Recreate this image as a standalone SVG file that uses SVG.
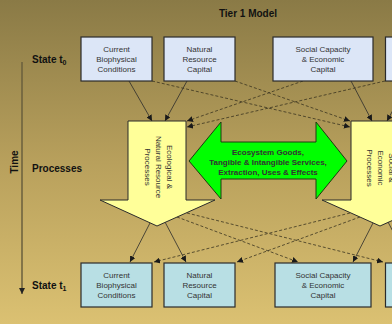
<svg xmlns="http://www.w3.org/2000/svg" width="392" height="324" viewBox="0 0 392 324">
  <defs>
    <linearGradient id="bg" x1="0" y1="0" x2="0" y2="1">
      <stop offset="0" stop-color="#8a7a46"/>
      <stop offset="0.5" stop-color="#b8a05c"/>
      <stop offset="1" stop-color="#dbc172"/>
    </linearGradient>
    <marker id="ah" viewBox="0 0 10 10" refX="10" refY="5" markerWidth="6" markerHeight="6" markerUnits="userSpaceOnUse" orient="auto">
      <path d="M0,0 L10,5 L0,10 z" fill="#1a1a1a"/>
    </marker>
    <marker id="ahTime" viewBox="0 0 10 10" refX="10" refY="5" markerWidth="6" markerHeight="6" markerUnits="userSpaceOnUse" orient="auto">
      <path d="M0,0 L10,5 L0,10 z" fill="#222"/>
    </marker>
  </defs>
  <style>
    .box { stroke: #2b2b2b; stroke-width: 1.2; }
    .t0 { fill: #dce6f7; }
    .t1 { fill: #b8dfe4; }
    .bt { font-family: "Liberation Sans", Arial, sans-serif; font-size: 8px; fill: #333; text-anchor: middle; }
    .lbl { font-family: "Liberation Sans", Arial, sans-serif; font-size: 10px; font-weight: bold; fill: #111; }
    .proc { fill: #ffff99; stroke: #2b2b2b; stroke-width: 1; }
    .solid { stroke: #2b2b2b; stroke-width: 0.8; fill: none; marker-end: url(#ah); }
    .dash { stroke: #3a3320; stroke-width: 0.8; fill: none; stroke-dasharray: 3 2; marker-end: url(#ah); }
  </style>

  <rect x="0" y="0" width="392" height="324" fill="url(#bg)"/>

  <!-- Title and row labels -->
  <text class="lbl" x="248" y="17" text-anchor="middle" font-size="10.5">Tier 1 Model</text>
  <text class="lbl" x="32" y="63">State t<tspan font-size="7" dy="2">0</tspan></text>
  <text class="lbl" x="32" y="172">Processes</text>
  <text class="lbl" x="32" y="289">State t<tspan font-size="7" dy="2">1</tspan></text>

  <!-- Time axis -->
  <g id="time-axis">
    <line x1="22" y1="62" x2="22" y2="294" stroke="#6a5f3c" stroke-width="1.5" marker-end="url(#ahTime)"/>
    <text class="lbl" transform="translate(18,162) rotate(-90)" text-anchor="middle">Time</text>
  </g>

  <!-- Connectors -->
  <g id="connectors">
    <!-- state t0 to processes -->
    <line class="solid" x1="129" y1="81" x2="152" y2="121"/>
    <line class="solid" x1="187" y1="81" x2="165" y2="121"/>
    <line class="solid" x1="351" y1="81" x2="372" y2="121"/>
    <line class="solid" x1="409" y1="81" x2="387" y2="121"/>
    <line class="dash" x1="152" y1="81" x2="350" y2="127"/>
    <line class="dash" x1="235" y1="81" x2="350" y2="121"/>
    <line class="dash" x1="303" y1="81" x2="187" y2="121"/>
    <line class="dash" x1="385" y1="81" x2="187" y2="127"/>
    <!-- processes to state t1 -->
    <line class="solid" x1="150" y1="223" x2="130" y2="262"/>
    <line class="solid" x1="165" y1="222" x2="186" y2="262"/>
    <line class="solid" x1="373" y1="223" x2="353" y2="262"/>
    <line class="solid" x1="388" y1="222" x2="409" y2="262"/>
    <line class="dash" x1="187" y1="213" x2="383" y2="262"/>
    <line class="dash" x1="177" y1="217" x2="298" y2="262"/>
    <line class="dash" x1="350" y1="213" x2="154" y2="262"/>
    <line class="dash" x1="360" y1="217" x2="237" y2="262"/>
  </g>

  <!-- State t0 boxes -->
  <g id="t0-biophysical">
    <rect class="box t0" x="81" y="37" width="71" height="44"/>
    <text class="bt" x="116.5" y="52">Current</text>
    <text class="bt" x="116.5" y="62">Biophysical</text>
    <text class="bt" x="116.5" y="72">Conditions</text>
  </g>
  <g id="t0-natural">
    <rect class="box t0" x="164" y="37" width="71" height="44"/>
    <text class="bt" x="199.5" y="52">Natural</text>
    <text class="bt" x="199.5" y="62">Resource</text>
    <text class="bt" x="199.5" y="72">Capital</text>
  </g>
  <g id="t0-social">
    <rect class="box t0" x="273" y="37" width="100" height="44"/>
    <text class="bt" x="323" y="52">Social Capacity</text>
    <text class="bt" x="323" y="62">&amp; Economic</text>
    <text class="bt" x="323" y="72">Capital</text>
  </g>
  <g id="t0-fourth">
    <rect class="box t0" x="385.5" y="37" width="20" height="44"/>
  </g>

  <!-- Process arrows -->
  <g id="eco-processes">
    <path class="proc" d="M128,121 L186,121 L186,200 L215,200 L157,226 L100,200 L128,200 Z"/>
    <g transform="translate(159,167) rotate(90)">
      <text class="bt" x="0" y="-8">Ecological &amp;</text>
      <text class="bt" x="0" y="3">Natural Resource</text>
      <text class="bt" x="0" y="14">Processes</text>
    </g>
  </g>
  <g id="socio-processes">
    <path class="proc" d="M351,121 L409,121 L409,200 L438,200 L380,226 L322,200 L351,200 Z"/>
    <g transform="translate(381,168) rotate(90)">
      <text class="bt" x="0" y="-8">Social &amp;</text>
      <text class="bt" x="0" y="3">Economic</text>
      <text class="bt" x="0" y="14">Processes</text>
    </g>
  </g>

  <!-- Exchange arrow -->
  <g id="exchange">
    <path d="M189,161 L221,122 L221,142 L316,142 L316,122 L347,161 L316,199 L316,179 L221,179 L221,199 Z" fill="#00ff00" stroke="#1e3a10" stroke-width="1"/>
    <text class="bt" x="268" y="155" font-weight="bold" fill="#111">Ecosystem Goods,</text>
    <text class="bt" x="268" y="165" font-weight="bold" fill="#111">Tangible &amp; Intangible Services,</text>
    <text class="bt" x="268" y="175" font-weight="bold" fill="#111">Extraction, Uses &amp; Effects</text>
  </g>

  <!-- State t1 boxes -->
  <g id="t1-biophysical">
    <rect class="box t1" x="81" y="263" width="71" height="44"/>
    <text class="bt" x="116.5" y="278">Current</text>
    <text class="bt" x="116.5" y="288">Biophysical</text>
    <text class="bt" x="116.5" y="298">Conditions</text>
  </g>
  <g id="t1-natural">
    <rect class="box t1" x="164" y="263" width="71" height="44"/>
    <text class="bt" x="199.5" y="278">Natural</text>
    <text class="bt" x="199.5" y="288">Resource</text>
    <text class="bt" x="199.5" y="298">Capital</text>
  </g>
  <g id="t1-social">
    <rect class="box t1" x="275" y="263" width="96" height="44"/>
    <text class="bt" x="323" y="278">Social Capacity</text>
    <text class="bt" x="323" y="288">&amp; Economic</text>
    <text class="bt" x="323" y="298">Capital</text>
  </g>
  <g id="t1-fourth">
    <rect class="box t1" x="385.5" y="263" width="20" height="44"/>
  </g>
</svg>
